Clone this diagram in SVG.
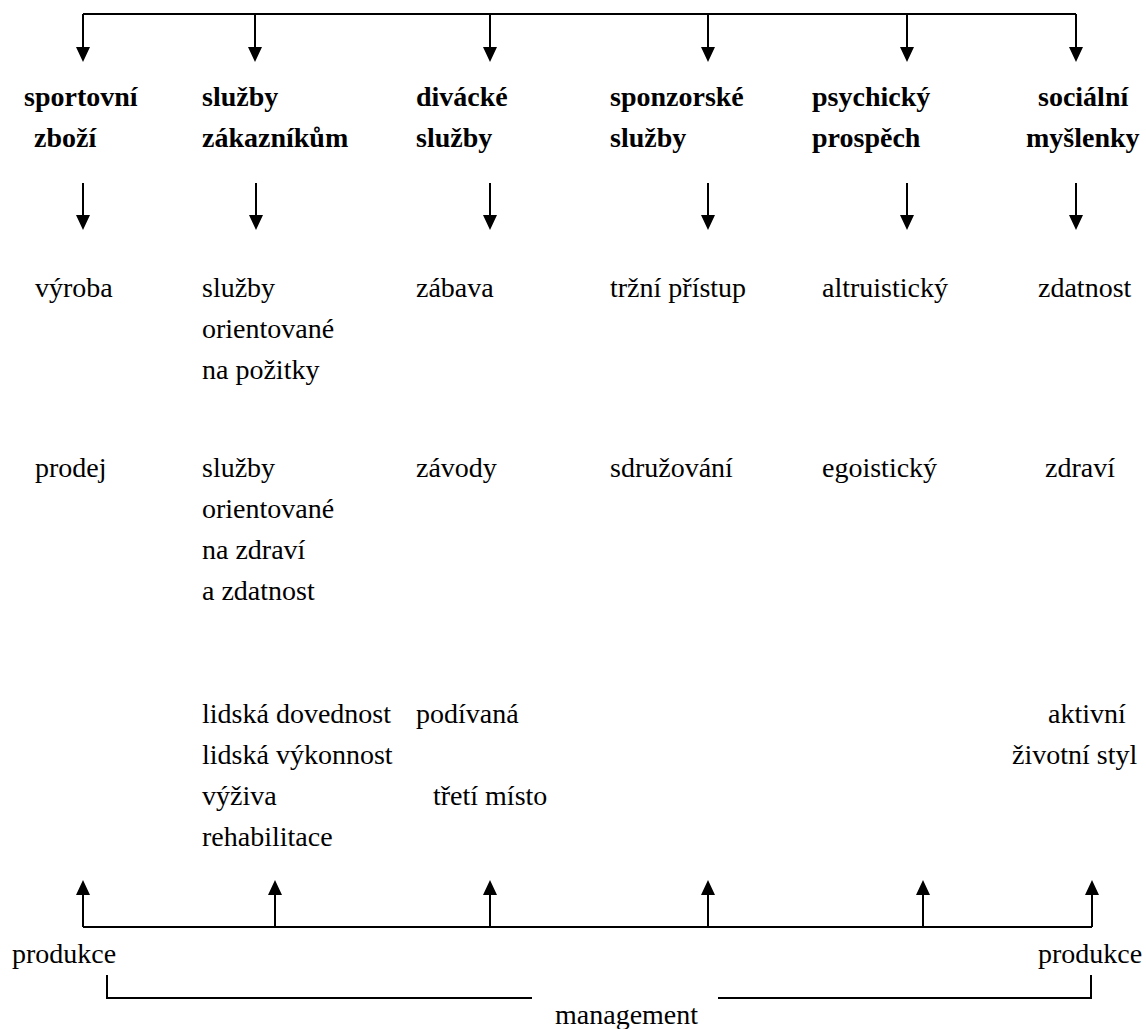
<svg xmlns="http://www.w3.org/2000/svg" width="1146" height="1029" viewBox="0 0 1146 1029">
<style>
text{font-family:'Liberation Serif','Times New Roman',serif;font-size:28px;fill:#000}
.h{font-weight:bold}
.ln{stroke:#000;stroke-width:2;fill:none}
.ah{fill:#000}
</style>
<rect width="1146" height="1029" fill="#fff"/>
<g id="connectors">
<path class="ln" d="M83,14 H1076"/>
<path class="ln" d="M83,14 V50 M255,14 V50 M490,14 V50 M708,14 V50 M907,14 V50 M1076,14 V50"/>
<path class="ah" d="M76,47 L90,47 L83,62 Z M248,47 L262,47 L255,62 Z M483,47 L497,47 L490,62 Z M701,47 L715,47 L708,62 Z M900,47 L914,47 L907,62 Z M1069,47 L1083,47 L1076,62 Z"/>
<path class="ln" d="M83,183 V220 M256,183 V220 M490,183 V220 M708,183 V220 M907,183 V220 M1076,183 V220"/>
<path class="ah" d="M76,215 L90,215 L83,230 Z M249,215 L263,215 L256,230 Z M483,215 L497,215 L490,230 Z M701,215 L715,215 L708,230 Z M900,215 L914,215 L907,230 Z M1069,215 L1083,215 L1076,230 Z"/>
<path class="ln" d="M83,927 H1092 M83,927 V890 M275,927 V890 M490,927 V890 M708,927 V890 M923,927 V890 M1092,927 V890"/>
<path class="ah" d="M76,895 L90,895 L83,880 Z M268,895 L282,895 L275,880 Z M483,895 L497,895 L490,880 Z M701,895 L715,895 L708,880 Z M916,895 L930,895 L923,880 Z M1085,895 L1099,895 L1092,880 Z"/>
<path class="ln" d="M107,975 V998 H532 M718,998 H1091 V975"/>
</g>
<g id="n-sportovni"><text class="h" x="24" y="106">sportovní</text><text class="h" x="34" y="147">zboží</text></g>
<g id="n-sluzby-zak"><text class="h" x="202" y="106">služby</text><text class="h" x="202" y="147">zákazníkům</text></g>
<g id="n-divacke"><text class="h" x="416" y="106">divácké</text><text class="h" x="416" y="147">služby</text></g>
<g id="n-sponzorske"><text class="h" x="610" y="106">sponzorské</text><text class="h" x="610" y="147">služby</text></g>
<g id="n-psychicky"><text class="h" x="812" y="106">psychický</text><text class="h" x="812" y="147">prospěch</text></g>
<g id="n-socialni"><text class="h" x="1038" y="106">sociální</text><text class="h" x="1026" y="147">myšlenky</text></g>
<g id="r1">
<text x="35" y="297">výroba</text>
<text x="202" y="297">služby</text><text x="202" y="338">orientované</text><text x="202" y="379">na požitky</text>
<text x="416" y="297">zábava</text>
<text x="610" y="297">tržní přístup</text>
<text x="822" y="297">altruistický</text>
<text x="1038" y="297">zdatnost</text>
</g>
<g id="r2">
<text x="35" y="477">prodej</text>
<text x="202" y="477">služby</text><text x="202" y="518">orientované</text><text x="202" y="559">na zdraví</text><text x="202" y="600">a zdatnost</text>
<text x="416" y="477">závody</text>
<text x="610" y="477">sdružování</text>
<text x="822" y="477">egoistický</text>
<text x="1045" y="477">zdraví</text>
</g>
<g id="r3">
<text x="202" y="723">lidská dovednost</text><text x="202" y="764">lidská výkonnost</text><text x="202" y="805">výživa</text><text x="202" y="846">rehabilitace</text>
<text x="416" y="723">podívaná</text>
<text x="433" y="805">třetí místo</text>
<text x="1048" y="723">aktivní</text>
<text x="1012" y="764">životní styl</text>
</g>
<g id="bottom">
<text x="12" y="963">produkce</text>
<text x="1038" y="963">produkce</text>
<text x="555" y="1024">management</text>
</g>
</svg>
